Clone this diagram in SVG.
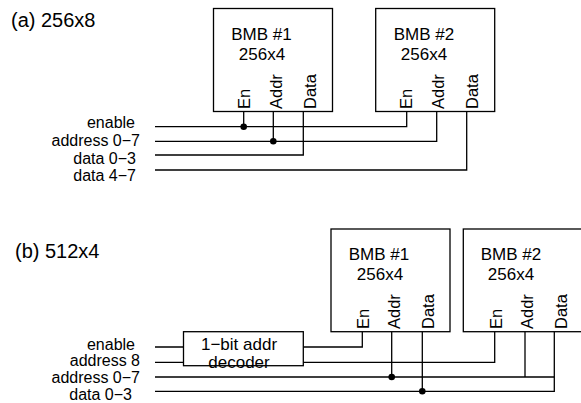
<svg xmlns="http://www.w3.org/2000/svg" width="581" height="403" viewBox="0 0 581 403">
<style>
text{font-family:"Liberation Sans",Arial,Helvetica,sans-serif;fill:#000}
.t{font-size:20px}
.b{font-size:17px;text-anchor:middle}
.l{font-size:16px;text-anchor:end}
.p{font-size:16.5px}
.box{fill:#fff;stroke:#000;stroke-width:1.3}
.w{fill:none;stroke:#000;stroke-width:1.3}
.d{fill:#000}
</style>
<rect width="581" height="403" fill="#fff"/>
<text class="t" x="11" y="27">(a) 256x8</text>
<text class="t" x="15" y="258">(b) 512x4</text>

<g id="a-bmb1">
<rect class="box" x="213.5" y="8.5" width="119" height="103"/>
<text class="b" x="261.5" y="39.5">BMB #1</text>
<text class="b" x="262" y="59.5">256x4</text>
<text class="p" transform="translate(249.5,109) rotate(-90)">En</text>
<text class="p" transform="translate(281.5,109) rotate(-90)">Addr</text>
<text class="p" transform="translate(315.5,109) rotate(-90)">Data</text>
</g>
<g id="a-bmb2">
<rect class="box" x="375.7" y="8.5" width="119" height="103"/>
<text class="b" x="424" y="39.5">BMB #2</text>
<text class="b" x="424" y="59.5">256x4</text>
<text class="p" transform="translate(412,109) rotate(-90)">En</text>
<text class="p" transform="translate(444,109) rotate(-90)">Addr</text>
<text class="p" transform="translate(477.5,109) rotate(-90)">Data</text>
</g>
<g id="a-labels">
<text class="l" x="135" y="128">enable</text>
<text class="l" x="140" y="145.5">address 0−7</text>
<text class="l" x="136" y="164">data 0−3</text>
<text class="l" x="136" y="181">data 4−7</text>
</g>

<g id="b-bmb1">
<rect class="box" x="331" y="229" width="119" height="102.7"/>
<text class="b" x="379" y="260">BMB #1</text>
<text class="b" x="380" y="280">256x4</text>
<text class="p" transform="translate(369,329) rotate(-90)">En</text>
<text class="p" transform="translate(400,329) rotate(-90)">Addr</text>
<text class="p" transform="translate(433.5,329) rotate(-90)">Data</text>
</g>
<g id="b-bmb2">
<rect class="box" x="463.3" y="229" width="119" height="102.7"/>
<text class="b" x="511" y="260">BMB #2</text>
<text class="b" x="511" y="280">256x4</text>
<text class="p" transform="translate(502,329) rotate(-90)">En</text>
<text class="p" transform="translate(533,329) rotate(-90)">Addr</text>
<text class="p" transform="translate(566.5,329) rotate(-90)">Data</text>
</g>
<g id="b-decoder">
<rect class="box" x="183.5" y="331.7" width="119.8" height="34"/>
<text class="b" x="239" y="350">1−bit addr</text>
<text class="b" x="239" y="368">decoder</text>
</g>
<g id="b-labels">
<text class="l" x="135" y="350">enable</text>
<text class="l" x="140" y="366">address 8</text>
<text class="l" x="140" y="383">address 0−7</text>
<text class="l" x="132" y="400">data 0−3</text>
</g>

<g id="connectors">
<path class="w" d="M155,126.7H406.7V111.7 M243.7,111.7V126.7"/>
<path class="w" d="M155,141.3H436.7V111.7 M273.3,111.7V141.3"/>
<path class="w" d="M155,155H303.3V111.7"/>
<path class="w" d="M155,170H466.7V111.7"/>
<circle class="d" cx="243.7" cy="126.7" r="3.3"/>
<circle class="d" cx="273.3" cy="141.3" r="3.3"/>

<path class="w" d="M155,347H183.5 M155,362.3H183.5"/>
<path class="w" d="M303.3,347H362.3V331.7"/>
<path class="w" d="M303.3,362.3H494.7V331.7"/>
<path class="w" d="M155,377H554.3 M391.7,331.7V377 M525,331.7V377"/>
<path class="w" d="M155,391.3H554.3V331.7 M422.3,331.7V391.3"/>
<circle class="d" cx="391.7" cy="377" r="3.3"/>
<circle class="d" cx="422.3" cy="391.3" r="3.3"/>
</g>
</svg>
